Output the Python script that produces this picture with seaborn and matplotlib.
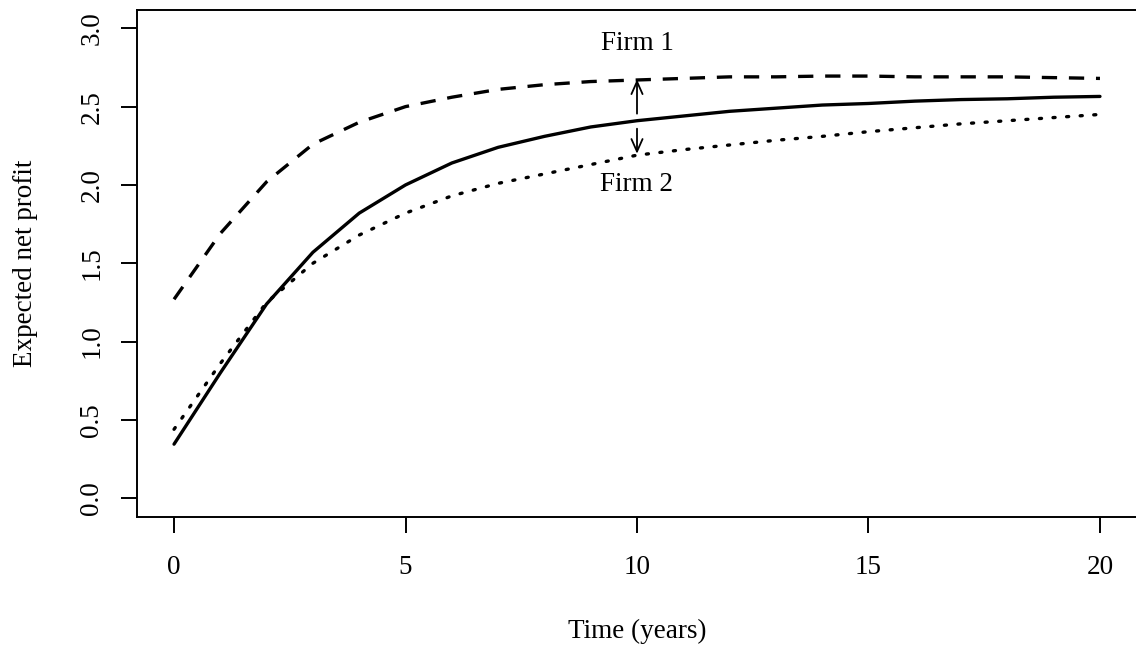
import numpy as np
import pandas as pd
import matplotlib
matplotlib.use("Agg")
import matplotlib.pyplot as plt
import seaborn as sns

# ---- data ----
years = list(range(0, 21))
baseline = [0.345, 0.80, 1.24, 1.57, 1.82, 2.00, 2.14, 2.24, 2.31, 2.37, 2.41,
            2.44, 2.47, 2.49, 2.51, 2.52, 2.535, 2.545, 2.55, 2.56, 2.565]
firm1 = [1.27, 1.69, 2.02, 2.26, 2.40, 2.50, 2.56, 2.61, 2.64, 2.66, 2.67,
         2.68, 2.69, 2.69, 2.695, 2.695, 2.69, 2.69, 2.69, 2.685, 2.68]
firm2 = [0.44, 0.86, 1.25, 1.50, 1.68, 1.82, 1.93, 2.01, 2.07, 2.13, 2.19,
         2.225, 2.255, 2.285, 2.31, 2.34, 2.365, 2.39, 2.41, 2.43, 2.45]
x_ticks = [0, 5, 10, 15, 20]
y_ticks = [0.0, 0.5, 1.0, 1.5, 2.0, 2.5, 3.0]
y_tick_labels = ["0.0", "0.5", "1.0", "1.5", "2.0", "2.5", "3.0"]
label_firm1 = "Firm 1"
label_firm2 = "Firm 2"
xlabel = "Time (years)"
ylabel = "Expected net profit"

sns.set_theme(style="white")
plt.rcParams["font.family"] = ["Liberation Serif", "DejaVu Serif"]
plt.rcParams["lines.scale_dashes"] = False
FS = 19.5

W, H = 1136, 652
fig = plt.figure(figsize=(W / 100, H / 100), dpi=100)
ax = fig.add_axes([137 / W, (H - 517) / H, 1002 / W, 507.5 / H])

LW = 2.4
sns.lineplot(x=years, y=baseline, ax=ax, color="black", linewidth=LW)
sns.lineplot(x=years, y=firm1, ax=ax, color="black", linewidth=LW)
ax.lines[-1].set_dashes((11, 8.5))
sns.lineplot(x=years, y=firm2, ax=ax, color="black", linewidth=LW)
ax.lines[-1].set_dashes((1.5, 8.3))
ax.lines[-1].set_dash_capstyle("round")
for ln in ax.lines:
    ln.set_solid_capstyle("round")

ax.set_xlim(-0.8, 20.8 + 0.8 * 2 / 1000 * 21.6 / 0.8 * 0.8 / 21.6 * 0)
ax.set_xlim(-0.8, -0.8 + 21.6 * 1002 / 1000)
ax.set_ylim(-0.12, 3.12)
ax.set_xticks(x_ticks)
ax.set_xticklabels([str(v) for v in x_ticks])
ax.set_yticks(y_ticks)
ax.set_yticklabels(y_tick_labels, rotation=90, va="center")

ax.tick_params(axis="both", direction="out", length=11.5, width=1.4,
               color="black", labelsize=FS, labelcolor="black",
               bottom=True, left=True, top=False, right=False)
ax.tick_params(axis="x", pad=16)
ax.tick_params(axis="y", pad=12)

for s in ax.spines.values():
    s.set_color("black")
    s.set_linewidth(1.4)
    s.set_visible(True)

ax.set_xlabel(xlabel, fontsize=FS, color="black", va="center")
ax.set_ylabel(ylabel, fontsize=FS, color="black", va="center")
ax.xaxis.set_label_coords((637 - 137) / 1002, -0.226)
ax.yaxis.set_label_coords(-0.111, 0.5)

# arrows
ap = dict(arrowstyle="->,head_length=0.45,head_width=0.2", lw=1.3,
          color="black", shrinkA=0, shrinkB=0, mutation_scale=20)
ax.annotate("", xy=(10, 2.674), xytext=(10, 2.455), arrowprops=ap)
ax.annotate("", xy=(10, 2.199), xytext=(10, 2.359), arrowprops=ap)

ax.text(10, 2.90, label_firm1, ha="center", va="center", fontsize=FS, color="black")
ax.text(10, 2.00, label_firm2, ha="center", va="center", fontsize=FS, color="black")

fig.savefig("out.png", dpi=100, facecolor="white")
